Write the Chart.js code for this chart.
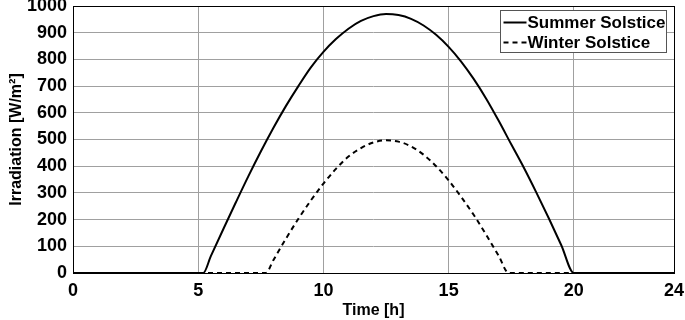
<!DOCTYPE html>
<html>
<head>
<meta charset="utf-8">
<script src="https://cdn.jsdelivr.net/npm/chart.js@4.4.1/dist/chart.umd.min.js"></script>
<style>
  html, body { margin: 0; padding: 0; background: #fff; }
  #wrap { width: 685px; height: 320px; }
</style>
</head>
<body>
<div id="wrap"><canvas id="irr-chart"></canvas></div>
<script>
// Hora del día [h]
const summerTime = [0, 1, 2, 3, 4, 5, 5.2, 5.5, 6, 6.5, 7, 7.5, 8, 8.5, 9, 9.5, 10, 10.5, 11, 11.5,
  12, 12.5, 13, 13.5, 14, 14.5, 15, 15.5, 16, 16.5, 17, 17.5, 18, 18.5, 19, 19.5, 20, 21, 22, 23, 24];
const summerValues = [0, 0, 0, 0, 0, 0, 0, 62, 164, 264, 362, 455, 543, 625, 700, 770, 828, 876, 915, 944,
  962, 970, 966, 952, 927, 892, 847, 792, 727, 653, 570, 482, 395, 302, 205, 104, 0, 0, 0, 0, 0];

const winterTime = [0, 2, 4, 6, 7, 7.7, 8, 8.5, 9, 9.5, 10, 10.5, 11, 11.5, 12, 12.5, 13, 13.5,
  14, 14.5, 15, 15.5, 16, 16.5, 17, 17.4, 18, 20, 22, 24];
const winterValues = [0, 0, 0, 0, 0, 0, 48, 128, 203, 272, 335, 390, 436, 468, 489, 497, 492, 474,
  443, 400, 347, 285, 218, 143, 64, 0, 0, 0, 0, 0];

const xTicks = [0, 5, 10, 15, 20, 24];
const yTicks = [0, 100, 200, 300, 400, 500, 600, 700, 800, 900, 1000];

const toPoints = (xs, ys) => xs.map((x, i) => ({ x: x, y: ys[i] }));

const FONT = '"Liberation Sans", Arial, sans-serif';

// Caja con borde alrededor del área y leyenda en la esquina
const framePlugin = {
  id: 'frame',
  afterDraw(chart) {
    const { ctx, chartArea: a } = chart;
    ctx.save();
    ctx.strokeStyle = '#000';
    ctx.lineWidth = 1;
    ctx.strokeRect(a.left + 0.5, a.top + 0.5, a.right - a.left, a.bottom - a.top);

    // leyenda
    const bx = 500.5, by = 10.5, bw = 166, bh = 42;
    ctx.fillStyle = '#fff';
    ctx.fillRect(bx, by, bw, bh);
    ctx.strokeStyle = '#555';
    ctx.strokeRect(bx, by, bw, bh);
    ctx.font = 'bold 17px ' + FONT;
    ctx.textBaseline = 'middle';
    ctx.fillStyle = '#000';
    chart.data.datasets.forEach((ds, i) => {
      const y = by + 12 + i * 20;
      ctx.beginPath();
      ctx.setLineDash(ds.borderDash || []);
      ctx.lineWidth = 2;
      ctx.strokeStyle = '#000';
      ctx.moveTo(bx + 3, y);
      ctx.lineTo(bx + 26, y);
      ctx.stroke();
      ctx.setLineDash([]);
      ctx.fillText(ds.label, bx + 27, y + 1);
    });
    ctx.restore();
  }
};

const data1 = {
  datasets: [
    {
      label: 'Summer Solstice',
      data: toPoints(summerTime, summerValues),
      borderColor: '#000',
      borderWidth: 2,
      pointRadius: 0,
      cubicInterpolationMode: 'monotone'
    },
    {
      label: 'Winter Solstice',
      data: toPoints(winterTime, winterValues),
      borderColor: '#000',
      borderWidth: 2,
      borderDash: [5, 4],
      pointRadius: 0,
      cubicInterpolationMode: 'monotone'
    }
  ]
};

const options1 = {
  responsive: false,
  animation: false,
  layout: { padding: { left: 0, right: 11, top: 6, bottom: 0 } },
  plugins: {
    legend: { display: false },
    tooltip: { enabled: false }
  },
  scales: {
    x: {
      type: 'linear',
      min: 0,
      max: 24,
      afterBuildTicks: (s) => { s.ticks = xTicks.map(v => ({ value: v })); },
      afterFit: (s) => { s.height = 47; s.paddingLeft = 0; s.paddingRight = 0; },
      grid: { color: '#a0a0a0', drawTicks: false },
      border: { display: false },
      ticks: { color: '#000', padding: 7, font: { family: FONT, size: 18, weight: 'bold' } },
      title: {
        display: true,
        text: 'Time [h]',
        color: '#000',
        padding: { top: 0, bottom: 0 },
        font: { family: FONT, size: 16, weight: 'bold' }
      }
    },
    y: {
      min: 0,
      max: 1000,
      afterBuildTicks: (s) => { s.ticks = yTicks.map(v => ({ value: v })); },
      afterFit: (s) => { s.width = 73; s.paddingTop = 0; s.paddingBottom = 0; },
      grid: { color: '#a0a0a0', drawTicks: false },
      border: { display: false },
      ticks: {
        color: '#000',
        padding: 6,
        font: { family: FONT, size: 18, weight: 'bold' },
        callback: (v) => String(v)
      },
      title: {
        display: true,
        text: 'Irradiation [W/m²]',
        color: '#000',
        padding: { top: 7, bottom: 2 },
        font: { family: FONT, size: 16, weight: 'bold' }
      }
    }
  }
};

const canvas = document.getElementById('irr-chart');
canvas.width = 685;
canvas.height = 320;
const NewChart = new Chart(canvas, {
  type: 'line',
  data: data1,
  options: options1,
  plugins: [framePlugin]
});
</script>
</body>
</html>
